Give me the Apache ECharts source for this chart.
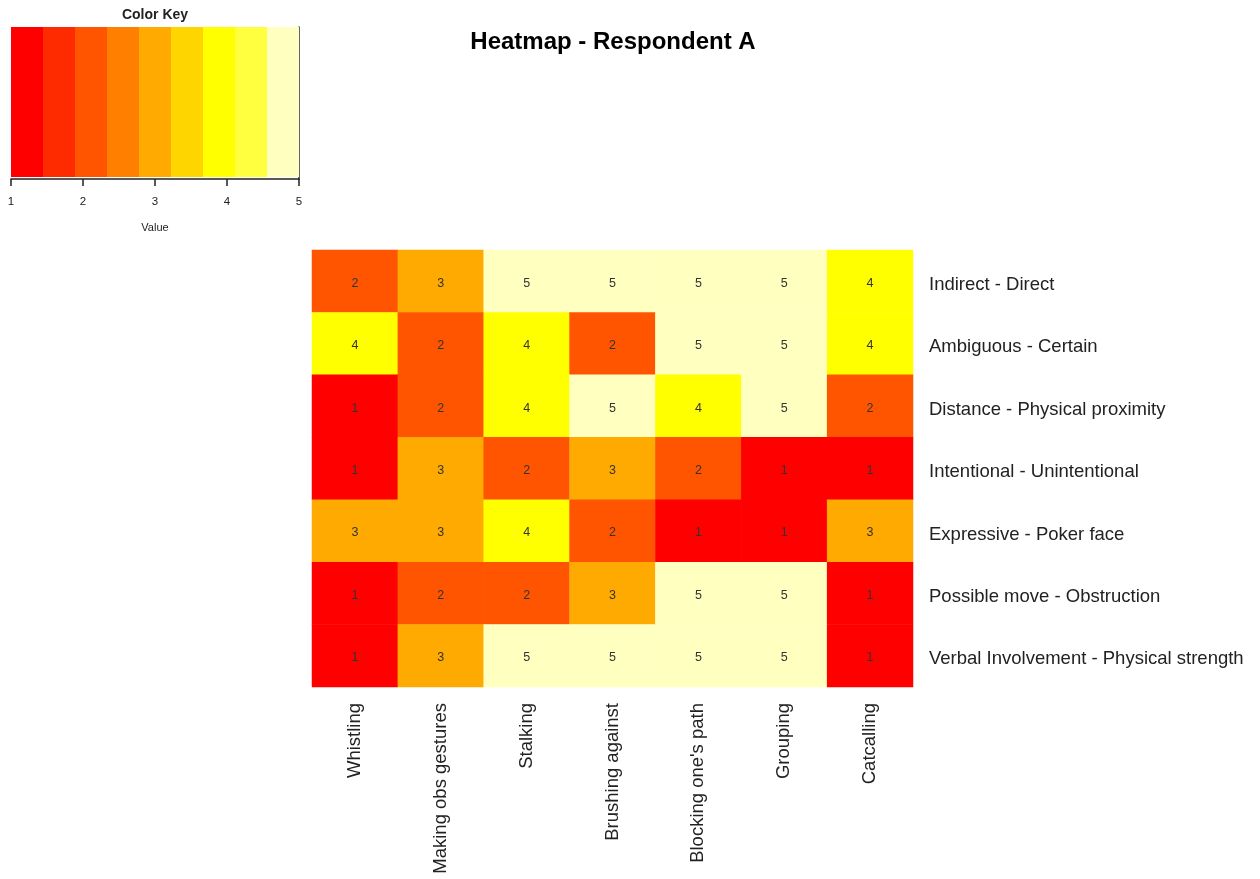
<!DOCTYPE html>
<html>
<head>
<meta charset="utf-8">
<script src="https://cdn.jsdelivr.net/npm/echarts@6/dist/echarts.min.js"></script>
<style>
html,body{margin:0;padding:0;background:#fff;}
#chart{width:1260px;height:879px;}
</style>
</head>
<body>
<div id="chart"></div>
<script>
// ---- data ----
const columns = ["Whistling", "Making obs gestures", "Stalking", "Brushing against", "Blocking one's path", "Grouping", "Catcalling"];
const rows = ["Indirect - Direct", "Ambiguous - Certain", "Distance - Physical proximity", "Intentional - Unintentional", "Expressive - Poker face", "Possible move - Obstruction", "Verbal Involvement - Physical strength"];
const rowIndirectDirect       = [2, 3, 5, 5, 5, 5, 4];
const rowAmbiguousCertain     = [4, 2, 4, 2, 5, 5, 4];
const rowDistanceProximity    = [1, 2, 4, 5, 4, 5, 2];
const rowIntentional          = [1, 3, 2, 3, 2, 1, 1];
const rowExpressivePoker      = [3, 3, 4, 2, 1, 1, 3];
const rowPossibleObstruction  = [1, 2, 2, 3, 5, 5, 1];
const rowVerbalPhysical       = [1, 3, 5, 5, 5, 5, 1];
const matrix = [rowIndirectDirect, rowAmbiguousCertain, rowDistanceProximity, rowIntentional, rowExpressivePoker, rowPossibleObstruction, rowVerbalPhysical];
const keyColors = ["#FF0000", "#FF2B00", "#FF5500", "#FF8000", "#FFAA00", "#FFD500", "#FFFF00", "#FFFF40", "#FFFFBF"];
const keyMin = 1, keyMax = 5;
const keyTicks = [1, 2, 3, 4, 5];

// ---- derived ----
const nBins = keyColors.length;
const breaks = [];
for (let i = 0; i <= nBins; i++) breaks.push(keyMin + (keyMax - keyMin) * i / nBins);
const keyData = keyColors.map((c, i) => [breaks[i], breaks[i + 1], i]);
const pieces = keyColors.map((c, i) => i === nBins - 1
  ? { gte: breaks[i], lte: breaks[i + 1], color: c }
  : { gte: breaks[i], lt: breaks[i + 1], color: c });
const heatData = [];
matrix.forEach((r, yi) => r.forEach((v, xi) => heatData.push([xi, yi, v])));

const FONT = "Liberation Sans, Arial, sans-serif";
const chart = echarts.init(document.getElementById('chart'), null, { renderer: 'canvas' });
chart.setOption({
  animation: false,
  backgroundColor: '#ffffff',
  textStyle: { fontFamily: FONT },
  graphic: [
    { type: 'text', x: 613, y: 42, style: { text: 'Heatmap - Respondent A', font: 'bold 24px ' + FONT, fill: '#000', textAlign: 'center', textVerticalAlign: 'middle' } },
    { type: 'text', x: 155, y: 15, style: { text: 'Color Key', font: 'bold 14px ' + FONT, fill: '#222', textAlign: 'center', textVerticalAlign: 'middle' } }
  ],
  grid: [
    { left: 11, top: 27, width: 288, height: 152 },
    { left: 312, top: 250, width: 601, height: 437 }
  ],
  xAxis: [
    {
      type: 'value', gridIndex: 0, min: keyMin, max: keyMax, interval: 1,
      name: 'Value', nameLocation: 'middle', nameGap: 43,
      nameTextStyle: { fontSize: 11, color: '#222', fontFamily: FONT },
      axisLine: { show: true, lineStyle: { color: '#222', width: 1.5 } },
      axisTick: { show: true, length: 7, lineStyle: { color: '#222', width: 1.5 } },
      axisLabel: { fontSize: 11.5, color: '#222', margin: 17, fontFamily: FONT, formatter: v => keyTicks.includes(v) ? String(v) : '' },
      splitLine: { show: false }
    },
    {
      type: 'category', gridIndex: 1, data: columns, position: 'bottom',
      axisLine: { show: false }, axisTick: { show: false },
      axisLabel: { rotate: 90, fontSize: 18.5, color: '#222', margin: 16, fontFamily: FONT, interval: 0 },
      splitLine: { show: false }
    }
  ],
  yAxis: [
    {
      type: 'value', gridIndex: 0, min: 0, max: 1, position: 'right',
      axisLine: { show: true, lineStyle: { color: '#333', width: 1.5 } },
      axisTick: { show: false }, axisLabel: { show: false }, splitLine: { show: false }
    },
    {
      type: 'category', gridIndex: 1, data: rows, position: 'right', inverse: true,
      axisLine: { show: false }, axisTick: { show: false },
      axisLabel: {
        color: '#222', margin: 16, fontFamily: FONT, interval: 0,
        formatter: v => '{a|' + v + '}',
        rich: { a: { fontSize: 18.5, color: '#222', fontFamily: FONT, padding: [7, 0, 0, 0] } }
      },
      splitLine: { show: false }
    }
  ],
  visualMap: {
    type: 'piecewise', show: false, seriesIndex: 1, dimension: 2, pieces: pieces
  },
  series: [
    {
      type: 'custom', xAxisIndex: 0, yAxisIndex: 0, data: keyData, silent: true,
      renderItem: function (params, api) {
        const p0 = api.coord([api.value(0), 1]);
        const p1 = api.coord([api.value(1), 0]);
        return {
          type: 'rect',
          shape: { x: p0[0], y: p0[1], width: p1[0] - p0[0], height: p1[1] - p0[1] - 2 },
          style: { fill: keyColors[api.value(2)] }
        };
      }
    },
    {
      type: 'heatmap', xAxisIndex: 1, yAxisIndex: 1, data: heatData,
      label: { show: true, fontSize: 12.5, color: '#333', fontFamily: FONT, offset: [0, 2] },
      itemStyle: { borderWidth: 0 },
      emphasis: { disabled: true }
    }
  ]
});
</script>
</body>
</html>
